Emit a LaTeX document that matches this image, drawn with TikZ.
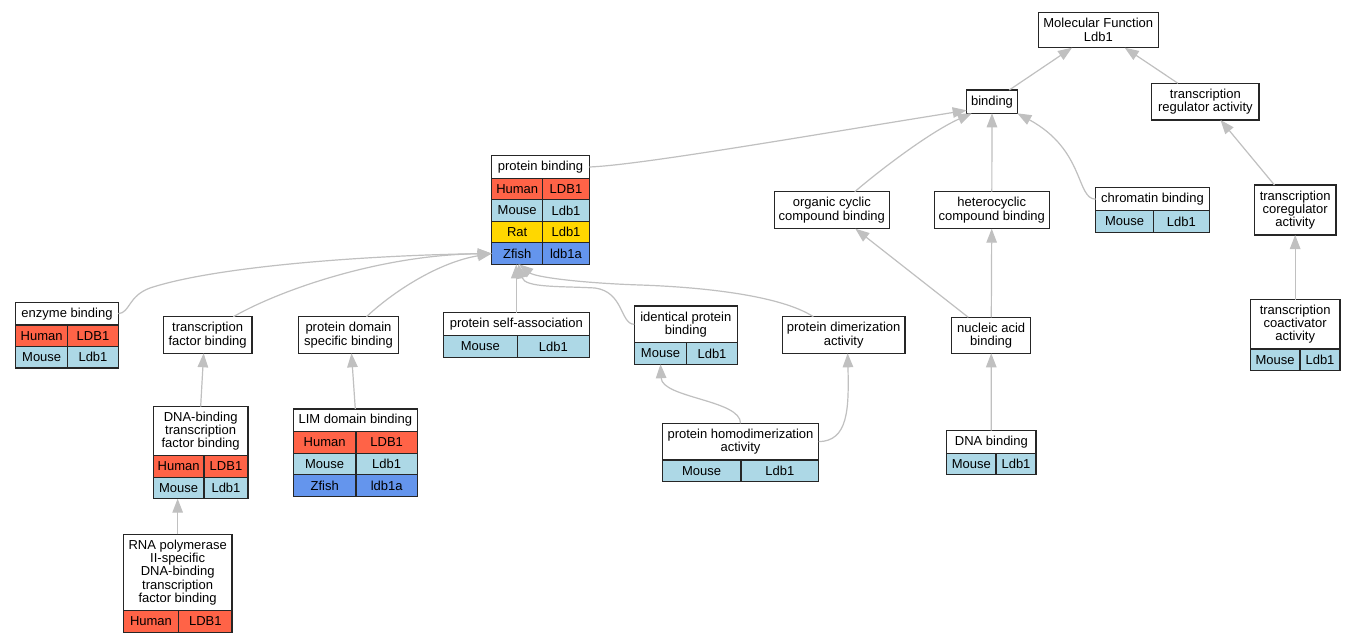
\documentclass[tikz,border=0pt]{standalone}
\usepackage{fontspec}
\setmainfont{Liberation Sans}
\usetikzlibrary{arrows.meta}

\definecolor{human}{RGB}{255,99,71}
\definecolor{mouse}{RGB}{173,216,230}
\definecolor{rat}{RGB}{255,215,0}
\definecolor{zfish}{RGB}{100,149,237}
\definecolor{edgegray}{RGB}{192,192,192}

% one species row under a box: above, row name, colour, species, gene, widths
\newcommand{\generow}[7]{%
  \node[cell,fill=#3,minimum width=#6pt,anchor=north west] (#2s) at (#1.south west) {#4};
  \node[cell,fill=#3,minimum width=#7pt,anchor=north west] (#2g) at (#2s.north east) {#5};
}

\begin{document}
\begin{tikzpicture}[x=1pt,y=-1pt,>={Triangle[length=14pt,width=10.5pt]},
  term/.style={draw=black!85,line width=1.3pt,fill=white,inner sep=0pt,outer sep=0pt,
    align=center,anchor=north west,font=\fontsize{13pt}{13.3pt}\selectfont},
  cell/.style={draw=black!85,line width=1.3pt,inner sep=0pt,outer sep=0pt,minimum height=21.5pt,
    font=\fontsize{13pt}{13.3pt}\selectfont},
  link/.style={->,draw=edgegray,line width=1.2pt}]
  \path[fill=white] (0,0) rectangle (1355,643);
  \useasboundingbox (0,0) rectangle (1355,643);

  % boxes
  \node[term,minimum width=120pt,minimum height=35.4pt] (mf) at (1038.3,12.3) {Molecular Function\\Ldb1};
  \node[term,minimum width=50.6pt,minimum height=23.3pt] (binding) at (966.7,90) {binding};
  \node[term,minimum width=107.3pt,minimum height=36.7pt] (tra) at (1151.7,83.3) {transcription\\regulator activity};

  \node[term,minimum width=97.6pt,minimum height=22.6pt] (pb) at (491.7,155.7) {protein binding};
  \generow{pb}{pbH}{human}{Human}{LDB1}{51}{46.6}
  \generow{pbHs}{pbM}{mouse}{Mouse}{Ldb1}{51}{46.6}
  \generow{pbMs}{pbR}{rat}{Rat}{Ldb1}{51}{46.6}
  \generow{pbRs}{pbZ}{zfish}{Zfish}{ldb1a}{51}{46.6}

  \node[term,minimum width=115pt,minimum height=37pt] (oc) at (774.3,191.7) {organic cyclic\\compound binding};
  \node[term,minimum width=115pt,minimum height=37pt] (hc) at (934.3,191.7) {heterocyclic\\compound binding};
  \node[term,minimum width=113.6pt,minimum height=23pt] (chrom) at (1095.7,187.7) {chromatin binding};
  \generow{chrom}{chromM}{mouse}{Mouse}{Ldb1}{57.6}{56}
  \node[term,minimum width=81.7pt,minimum height=50pt] (coreg) at (1254.3,185) {transcription\\coregulator\\activity};
  \node[term,minimum width=89.7pt,minimum height=49.5pt] (coact) at (1250.3,299.5) {transcription\\coactivator\\activity};
  \generow{coact}{coactM}{mouse}{Mouse}{Ldb1}{49.7}{40}

  \node[term,minimum width=102.6pt,minimum height=22.7pt] (enz) at (15.7,302.3) {enzyme binding};
  \generow{enz}{enzH}{human}{Human}{LDB1}{52}{50.6}
  \generow{enzHs}{enzM}{mouse}{Mouse}{Ldb1}{52}{50.6}
  \node[term,minimum width=88.7pt,minimum height=36.6pt] (tfb) at (163.3,316.7) {transcription\\factor binding};
  \node[term,minimum width=100.4pt,minimum height=36.6pt] (pdsb) at (298.3,316.7) {protein domain\\specific binding};
  \node[term,minimum width=146pt,minimum height=23pt] (psa) at (443.3,312.7) {protein self-association};
  \generow{psa}{psaM}{mouse}{Mouse}{Ldb1}{74}{72}
  \node[term,minimum width=103pt,minimum height=36.7pt] (ipb) at (634.3,306) {identical protein\\binding};
  \generow{ipb}{ipbM}{mouse}{Mouse}{Ldb1}{52.4}{50.6}
  \node[term,minimum width=122.7pt,minimum height=36.6pt] (pda) at (782.3,316.7) {protein dimerization\\activity};
  \node[term,minimum width=79pt,minimum height=36pt] (na) at (951.7,317.3) {nucleic acid\\binding};

  \node[term,minimum width=94.7pt,minimum height=49pt] (dbtf) at (153.3,406.7) {DNA-binding\\transcription\\factor binding};
  \generow{dbtf}{dbtfH}{human}{Human}{LDB1}{50.7}{44}
  \generow{dbtfHs}{dbtfM}{mouse}{Mouse}{Ldb1}{50.7}{44}
  \node[term,minimum width=124pt,minimum height=22.7pt] (lim) at (293.3,409) {LIM domain binding};
  \generow{lim}{limH}{human}{Human}{LDB1}{62.7}{61.3}
  \generow{limHs}{limM}{mouse}{Mouse}{Ldb1}{62.7}{61.3}
  \generow{limMs}{limZ}{zfish}{Zfish}{ldb1a}{62.7}{61.3}
  \node[term,minimum width=156.4pt,minimum height=36.7pt] (pha) at (662.3,423.3) {protein homodimerization\\activity};
  \generow{pha}{phaM}{mouse}{Mouse}{Ldb1}{78.7}{77.7}
  \node[term,minimum width=89.3pt,minimum height=22.6pt] (dna) at (946.7,430.7) {DNA binding};
  \generow{dna}{dnaM}{mouse}{Mouse}{Ldb1}{49.3}{40}
  \node[term,minimum width=108.7pt,minimum height=76.4pt] (rnap) at (123.3,534.3) {RNA polymerase\\II-specific\\DNA-binding\\transcription\\factor binding};
  \generow{rnap}{rnapH}{human}{Human}{LDB1}{55.4}{53.3}

  % links, child to parent
  \draw[link] (binding) -- (mf);
  \draw[link] (tra) -- (mf);
  \draw[link] (coreg) -- (tra);
  \draw[link] (coact) -- (coreg);
  \draw[link] (hc) -- (binding);
  \draw[link] (na) -- (hc);
  \draw[link] (na) -- (oc);
  \draw[link] (dna) -- (na);
  \draw[link] (pb.east) .. controls (640,165) and (800,137) .. ([yshift=3pt]binding.south west);
  \draw[link] ([xshift=23pt]oc.north) .. controls (880,170) and (930,132) .. ([xshift=5pt]binding.south west);
  \draw[link] (chrom.west) .. controls (1076,199) and (1085,150) .. (binding.south east);
  \draw[link] (enz.east) .. controls (130,313) and (128,296) .. (150,288) .. controls (220,265) and (380,255) .. (pbZs.west);
  \draw[link] ([xshift=25.7pt]tfb.north) .. controls (280,290) and (380,255) .. (pbZs.west);
  \draw[link] ([xshift=18pt]pdsb.north) .. controls (395,290) and (440,262) .. (pbZs.west);
  \draw[link] (psa.north) -- (psa.north |- pbZs.south);
  \draw[link] (ipb.west) .. controls (620,324) and (624,292) .. (595,288) .. controls (560,286) and (525,288) .. ([xshift=1pt]pbZs.south);
  \draw[link] ([xshift=-30.3pt]pda.north) .. controls (780,295) and (700,287) .. (640,285) .. controls (580,283) and (535,277) .. ([xshift=2pt]pbZs.south);
  \draw[link] (dbtf.north) -- ([xshift=-4pt]tfb.south);
  \draw[link] (rnap.north) -- (rnap.north |- dbtfMs.south);
  \draw[link] (lim.north) -- ([xshift=3pt]pdsb.south);
  \draw[link] (pha.north) .. controls (741,400) and (662,398) .. (ipbMs.south);
  \draw[link] (pha.east) .. controls (848,441) and (849,410) .. ([xshift=4pt]pda.south);
\end{tikzpicture}
\end{document}
